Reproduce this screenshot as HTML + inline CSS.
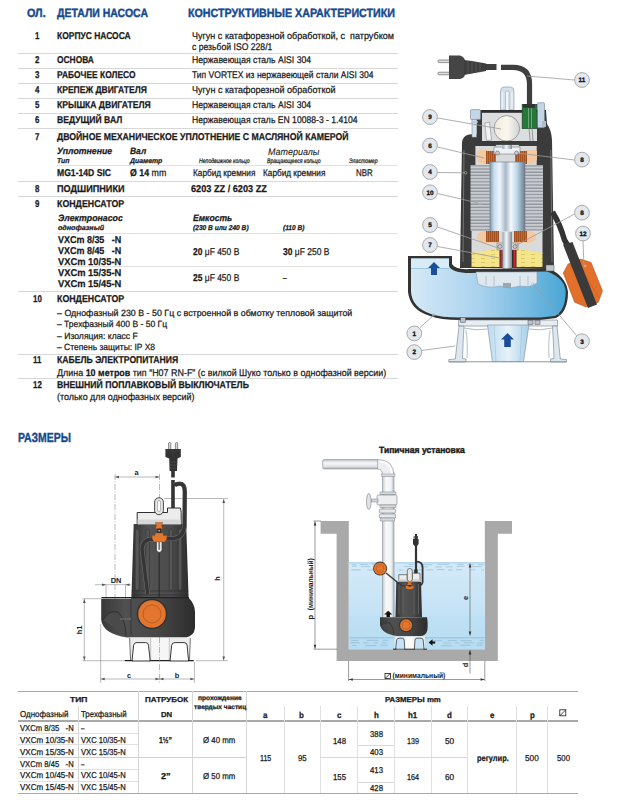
<!DOCTYPE html>
<html><head><meta charset="utf-8"><style>
*{margin:0;padding:0;box-sizing:border-box}
html,body{width:617px;height:800px;overflow:hidden;background:#fff}
body{position:relative;font-family:"Liberation Sans",sans-serif;text-rendering:geometricPrecision}
.t{position:absolute;white-space:nowrap;transform-origin:0 0;line-height:1;-webkit-text-stroke:0.25px currentColor}
.l{position:absolute}
.hb,.hb2,.sb{-webkit-text-stroke:0.4px currentColor}
.li{-webkit-text-stroke:0.1px currentColor}
.hb{font-size:12.00px;font-weight:700;color:#154a8e}
.b{font-size:9.90px;font-weight:700;color:#1a1a1a}
.r{font-size:9.70px;font-weight:400;color:#1a1a1a}
.r2{font-size:9.00px;font-weight:400;color:#1a1a1a}
.bi{font-size:9.20px;font-weight:700;font-style:italic;color:#1a1a1a}
.ti{font-size:7.00px;font-weight:700;font-style:italic;color:#1a1a1a}
.li{font-size:9.60px;font-weight:400;font-style:italic;color:#1a1a1a}
.xi{font-size:6.60px;font-weight:400;font-style:italic;color:#1a1a1a}
.tb{font-size:8.60px;font-weight:700;color:#1a1a1a}
.tr{font-size:8.60px;font-weight:400;color:#1a1a1a}
.ts{font-size:7.20px;font-weight:700;color:#1a1a1a}
.hb2{font-size:13.20px;font-weight:700;color:#154a8e}
.sb{font-size:9.20px;font-weight:700;color:#1a1a1a}
.dim{font-size:7.50px;font-weight:700;color:#1a1a1a}
.th{font-size:8.60px;font-weight:700;color:#1a1a1a}
.xb{font-size:6.60px;font-weight:700;color:#1a1a1a}
</style></head><body>
<div class="l" style="left:17.5px;top:52.90px;width:380.5px;height:1.00px;background:#d8d8d8"></div>
<div class="l" style="left:17.5px;top:67.90px;width:380.5px;height:1.00px;background:#d8d8d8"></div>
<div class="l" style="left:17.5px;top:83.10px;width:380.5px;height:1.00px;background:#d8d8d8"></div>
<div class="l" style="left:17.5px;top:98.00px;width:380.5px;height:1.00px;background:#d8d8d8"></div>
<div class="l" style="left:17.5px;top:112.80px;width:380.5px;height:1.00px;background:#d8d8d8"></div>
<div class="l" style="left:17.5px;top:127.80px;width:380.5px;height:1.00px;background:#d8d8d8"></div>
<div class="l" style="left:17.5px;top:180.90px;width:380.5px;height:1.00px;background:#d8d8d8"></div>
<div class="l" style="left:17.5px;top:195.80px;width:380.5px;height:1.00px;background:#d8d8d8"></div>
<div class="l" style="left:17.5px;top:290.70px;width:380.5px;height:1.00px;background:#d8d8d8"></div>
<div class="l" style="left:17.5px;top:353.50px;width:380.5px;height:1.00px;background:#d8d8d8"></div>
<div class="l" style="left:17.5px;top:377.70px;width:380.5px;height:1.00px;background:#d8d8d8"></div>
<div class="l" style="left:57.0px;top:165.10px;width:341.0px;height:1.00px;background:#e2e2e2"></div>
<div class="l" style="left:57.0px;top:232.90px;width:341.0px;height:1.00px;background:#e2e2e2"></div>
<div class="l" style="left:57.0px;top:266.40px;width:341.0px;height:1.00px;background:#e2e2e2"></div>
<div class="l" style="left:17.6px;top:690.60px;width:560.8px;height:1.60px;background:#a8a8a8"></div>
<div class="l" style="left:17.6px;top:792.50px;width:560.8px;height:1.60px;background:#a8a8a8"></div>
<div class="l" style="left:17.6px;top:720.35px;width:229.1px;height:1.30px;background:#a8a8a8"></div>
<div class="l" style="left:246.7px;top:720.35px;width:331.7px;height:1.30px;background:#a8a8a8"></div>
<div class="l" style="left:17.6px;top:732.50px;width:121.1px;height:1.00px;background:#e0e0e0"></div>
<div class="l" style="left:17.6px;top:744.40px;width:121.1px;height:1.00px;background:#e0e0e0"></div>
<div class="l" style="left:17.6px;top:769.00px;width:121.1px;height:1.00px;background:#e0e0e0"></div>
<div class="l" style="left:17.6px;top:780.70px;width:121.1px;height:1.00px;background:#e0e0e0"></div>
<div class="l" style="left:17.6px;top:756.60px;width:229.1px;height:1.00px;background:#d0d0d0"></div>
<div class="l" style="left:320.4px;top:756.60px;width:147.1px;height:1.00px;background:#d8d8d8"></div>
<div class="l" style="left:357.5px;top:745.10px;width:36.8px;height:1.00px;background:#d8d8d8"></div>
<div class="l" style="left:357.5px;top:781.50px;width:36.8px;height:1.00px;background:#d8d8d8"></div>
<div class="l" style="left:138.20px;top:691.4px;width:1.00px;height:101.9px;background:#d6d6d6"></div>
<div class="l" style="left:192.10px;top:691.4px;width:1.00px;height:101.9px;background:#d6d6d6"></div>
<div class="l" style="left:246.20px;top:691.4px;width:1.00px;height:101.9px;background:#d6d6d6"></div>
<div class="l" style="left:77.80px;top:706.0px;width:1.00px;height:87.3px;background:#d6d6d6"></div>
<div class="l" style="left:283.50px;top:706.0px;width:1.00px;height:87.3px;background:#e0e0e0"></div>
<div class="l" style="left:319.90px;top:706.0px;width:1.00px;height:87.3px;background:#e0e0e0"></div>
<div class="l" style="left:357.00px;top:706.0px;width:1.00px;height:87.3px;background:#e0e0e0"></div>
<div class="l" style="left:393.80px;top:706.0px;width:1.00px;height:87.3px;background:#e0e0e0"></div>
<div class="l" style="left:430.90px;top:706.0px;width:1.00px;height:87.3px;background:#e0e0e0"></div>
<div class="l" style="left:467.00px;top:706.0px;width:1.00px;height:87.3px;background:#e0e0e0"></div>
<div class="l" style="left:515.60px;top:706.0px;width:1.00px;height:87.3px;background:#e0e0e0"></div>
<div class="l" style="left:546.70px;top:706.0px;width:1.00px;height:87.3px;background:#e0e0e0"></div>
<svg style="position:absolute;left:0;top:0" width="617" height="800" viewBox="0 0 617 800">
<!-- ===== cutaway pump ===== -->
<defs>
<linearGradient id="gBlue" x1="0" y1="0" x2="1" y2="0">
<stop offset="0" stop-color="#d5e9f6"/><stop offset="0.45" stop-color="#a9d2ee"/><stop offset="1" stop-color="#4aa6d6"/></linearGradient>
<linearGradient id="gRotor" x1="0" y1="0" x2="1" y2="0">
<stop offset="0" stop-color="#8a98a6"/><stop offset="0.12" stop-color="#c8dff0"/><stop offset="0.28" stop-color="#eef5fa"/><stop offset="0.45" stop-color="#a8b8c8"/><stop offset="0.6" stop-color="#f6f9fc"/><stop offset="0.78" stop-color="#b8d4ea"/><stop offset="0.92" stop-color="#8a9aaa"/><stop offset="1" stop-color="#6e7c8a"/></linearGradient>
<linearGradient id="gShaft" x1="0" y1="0" x2="1" y2="0">
<stop offset="0" stop-color="#9aa6b2"/><stop offset="0.4" stop-color="#f2f6fa"/><stop offset="1" stop-color="#7d8a97"/></linearGradient>
<linearGradient id="gBase" x1="0" y1="0" x2="1" y2="0">
<stop offset="0" stop-color="#c8d2dc"/><stop offset="0.3" stop-color="#eef2f6"/><stop offset="0.7" stop-color="#b9c5d1"/><stop offset="1" stop-color="#e0e6ec"/></linearGradient>
<linearGradient id="gInlet" x1="0" y1="0" x2="1" y2="0">
<stop offset="0" stop-color="#bcdcf0"/><stop offset="0.5" stop-color="#e6f2fa"/><stop offset="1" stop-color="#a6cfe9"/></linearGradient>
<linearGradient id="gCap" x1="0" y1="0" x2="1" y2="0">
<stop offset="0" stop-color="#efe9dc"/><stop offset="0.5" stop-color="#fbf8f0"/><stop offset="1" stop-color="#cfd2d4"/></linearGradient>
<linearGradient id="gOrange" x1="0" y1="0" x2="1" y2="0">
<stop offset="0" stop-color="#e0641e"/><stop offset="0.6" stop-color="#ee8440"/><stop offset="1" stop-color="#d85a18"/></linearGradient>
<linearGradient id="gHousing" x1="0" y1="0" x2="1" y2="0">
<stop offset="0" stop-color="#333"/><stop offset="0.3" stop-color="#535353"/><stop offset="0.7" stop-color="#4a4a4a"/><stop offset="1" stop-color="#2e2e2e"/></linearGradient>
<linearGradient id="gVol" x1="0" y1="0" x2="1" y2="0">
<stop offset="0" stop-color="#383838"/><stop offset="0.25" stop-color="#505050"/><stop offset="0.6" stop-color="#474747"/><stop offset="1" stop-color="#2c2c2c"/></linearGradient>
<linearGradient id="gWater" x1="0" y1="0" x2="0" y2="1">
<stop offset="0" stop-color="#d4eaf8"/><stop offset="0.6" stop-color="#c4e2f5"/><stop offset="1" stop-color="#b0d7ef"/></linearGradient>
<linearGradient id="gPipe" x1="0" y1="0" x2="1" y2="0">
<stop offset="0" stop-color="#c4c8cc"/><stop offset="0.3" stop-color="#fbfbfb"/><stop offset="0.75" stop-color="#f0f1f2"/><stop offset="1" stop-color="#b4b9be"/></linearGradient>
<linearGradient id="gPipeH" x1="0" y1="0" x2="0" y2="1">
<stop offset="0" stop-color="#b9bec4"/><stop offset="0.35" stop-color="#f6f7f8"/><stop offset="0.7" stop-color="#e4e7ea"/><stop offset="1" stop-color="#a9afb6"/></linearGradient>
<pattern id="pStator" width="4" height="3.2" patternUnits="userSpaceOnUse"><rect width="4" height="3.2" fill="#c9ccd0"/><rect y="2" width="4" height="1.2" fill="#8d9298"/></pattern>
<pattern id="pCu" width="2" height="4" patternUnits="userSpaceOnUse"><rect width="2" height="4" fill="#c86a30"/><rect width="0.8" height="4" fill="#9a4a1c"/></pattern>
<pattern id="pOil" width="10" height="4" patternUnits="userSpaceOnUse"><rect width="10" height="4" fill="#f4e48a"/><rect x="1" y="2" width="4" height="0.6" fill="#c8b64e"/></pattern>
</defs>

<!-- plug -->
<g>
<rect x="438" y="60" width="12" height="2.6" rx="1" fill="#d8dde2" stroke="#555" stroke-width="0.6"/>
<rect x="438" y="72.2" width="12" height="2.6" rx="1" fill="#d8dde2" stroke="#555" stroke-width="0.6"/>
<path d="M449 55.5 L460 55.5 Q465 57 465 61 L465 74 Q465 78 460 79 L449 79 Z" fill="#454545"/>
<path d="M464 60 L472 61 L486 63.5 L486 71 L472 73.5 L464 75 Z" fill="#3e3e3e"/>
<path d="M468 61 v13 M472 61.5 v12 M476 62 v11 M480 62.8 v9.5" stroke="#5a5a5a" stroke-width="0.8"/>
<rect x="485" y="64" width="11.5" height="6" fill="#3f3f3f"/>
<path d="M501 67.3 L513 67.3 Q529.5 67.3 529.5 84 L529.5 104" fill="none" stroke="#3f3f3f" stroke-width="5.2"/>
</g>

<!-- handle -->
<path d="M500.5 110 L500.5 91 Q500.5 87 504 87 L510.5 87 Q514 87 514 91 L514 110 Z" fill="#d4e0ea" stroke="#8fa2b4" stroke-width="0.7"/>
<path d="M505.5 110 V92 Q505.5 91 507.2 91 Q509 91 509 92 V110" fill="#f4f7fa" stroke="#8fa2b4" stroke-width="0.6"/>
<path d="M502.3 92 V109 M512 92 V109" stroke="#f6f9fb" stroke-width="1"/>
<!-- dark motor housing -->
<path d="M477 110 L546 110 L547 124 Q551.5 130 552 140 L554 268 L460 268 L462 143 Q462.5 135.5 469 134.5 L477 134 Z" fill="#3b3b3b"/>
<path d="M464 150 L463 262 M550.8 150 L552 262" stroke="#9a9a9a" stroke-width="0.6"/>
<!-- top chamber -->
<rect x="482" y="112.5" width="55" height="28.5" fill="#dcdddf"/>
<rect x="482" y="110" width="40" height="2.6" fill="#2e2e2e"/>
<!-- left steel block + bolt -->
<rect x="470.5" y="109.6" width="10" height="10" rx="1" fill="#c4d6e6" stroke="#6f8598" stroke-width="0.6"/>
<rect x="472" y="119.6" width="4.6" height="17.5" fill="#d6e2ec" stroke="#6f8598" stroke-width="0.5"/>
<rect x="471" y="121" width="6.6" height="2" fill="#c0ccd8"/>
<!-- right steel block -->
<rect x="537.5" y="102.7" width="7" height="25" rx="1" fill="#c4d6e6" stroke="#6f8598" stroke-width="0.6"/>
<rect x="542" y="121" width="4" height="6" fill="#b0bcc8"/>
<!-- green gland -->
<rect x="522.2" y="104.4" width="14.5" height="24" fill="#27773a" stroke="#1f4f2a" stroke-width="0.8"/>
<rect x="523" y="104" width="12" height="3.8" fill="#333"/>
<path d="M528.5 108 v20 M531.5 108 v20" stroke="#9cc8a6" stroke-width="0.6"/>
<path d="M529 128 L531 150 M532 128 L534 152" stroke="#777" stroke-width="0.7" fill="none"/>
<!-- plate + capacitor -->
<path d="M484.8 123 L489.5 122.2 L491.6 140 L486.5 140.5 Z" fill="#f2f2f2" stroke="#888" stroke-width="0.6"/>
<circle cx="506.8" cy="128.4" r="12.8" fill="url(#gCap)" stroke="#8a8a8a" stroke-width="0.8"/>
<!-- dark band + lower light chamber -->
<rect x="475.4" y="141" width="62" height="5" fill="#3b3b3b"/>
<rect x="475.4" y="146" width="61.3" height="19" fill="#d9dadc"/>
<rect x="496" y="145" width="23" height="2" fill="#eef1f4" stroke="#888" stroke-width="0.4"/>
<!-- upper windings -->
<path d="M477 151 Q479 149 486 150 L495 152 L495 164 L483 164 Q478 163 477 159 Z" fill="#f2c9a2"/>
<rect x="486" y="151" width="10" height="13" fill="url(#pCu)"/>
<path d="M537 151 Q535 149 528 150 L516 152 L516 164 L531 164 Q536 163 537 159 Z" fill="#f2c9a2"/>
<rect x="515" y="151" width="12" height="13" fill="url(#pCu)"/>
<!-- bearing top -->
<rect x="494" y="147" width="26" height="7" fill="#eef2f5" stroke="#777" stroke-width="0.6"/>
<circle cx="497.5" cy="153" r="2" fill="#ccc" stroke="#555" stroke-width="0.5"/>
<circle cx="516.5" cy="153" r="2" fill="#ccc" stroke="#555" stroke-width="0.5"/>
<!-- stator -->
<rect x="470.5" y="165" width="20" height="66" fill="url(#pStator)"/>
<rect x="525" y="165" width="18" height="66" fill="url(#pStator)"/>
<!-- rotor -->
<rect x="490" y="162" width="35" height="70" fill="url(#gRotor)" stroke="#6d7984" stroke-width="0.6"/>
<!-- lower chamber grey -->
<rect x="471.5" y="231" width="71" height="23" fill="#d9dadc"/>
<!-- lower windings -->
<path d="M477 235 Q479 231 486 231 L499 231 L499 243 L484 243 Q478 242 477 238 Z" fill="#f2c9a2"/>
<rect x="486" y="231" width="13" height="11" fill="url(#pCu)"/>
<path d="M536 235 Q534 231 527 231 L514 231 L514 243 L529 243 Q535 242 536 238 Z" fill="#f2c9a2"/>
<rect x="514" y="231" width="13" height="11" fill="url(#pCu)"/>
<!-- oil chamber -->
<path d="M471.5 253 L494 249 L499 248 L516 248 L521 249 L542.5 253 L542.5 267 L471.5 267 Z" fill="url(#pOil)"/>
<rect x="497" y="243" width="21" height="7" fill="#d5d9dd" stroke="#666" stroke-width="0.5"/>
<circle cx="500" cy="246.5" r="2" fill="#ccc" stroke="#444" stroke-width="0.5"/>
<circle cx="515" cy="246.5" r="2" fill="#ccc" stroke="#444" stroke-width="0.5"/>
<!-- seal -->
<rect x="499.5" y="250" width="17" height="17" fill="#2e2e2e"/>
<rect x="500.5" y="250" width="2" height="17" fill="#d5262a"/>
<rect x="513.5" y="250" width="2" height="17" fill="#d5262a"/>
<!-- shaft -->
<rect x="502.5" y="145" width="9.5" height="4" fill="url(#gShaft)"/>
<rect x="502.5" y="232" width="9.5" height="56" fill="url(#gShaft)"/>
<!-- volute -->
<path d="M408 256 L452 256 L452 264 Q455 270 470 269 L548 268 Q566 276 568 292 Q568 312 556 318 L540 320 L460 320 Q440 320 430 316 Q410 310 408 292 Z" fill="#333"/>
<path d="M411 258.6 L449 258.6 L449 266 Q452 273 470 273 L547 271.5 Q565 278 565.7 292 Q565.5 310.5 555 316 L540 317.5 L460 317.5 Q441 317.5 431 314 Q411.5 307.5 411 291 Z" fill="url(#gBlue)"/>
<rect x="411" y="258.6" width="38" height="9.5" fill="#d8ecf8"/>
<path d="M411 268.5 H449" stroke="#7aaed0" stroke-width="0.6"/>
<!-- impeller -->
<path d="M476 272 L537 272 L537 283 Q530 288 520 286 L510 288 L500 286 Q488 289 478 284 Z" fill="#dfe8ef" stroke="#8aa0b4" stroke-width="0.6"/>
<path d="M486 276 v9 M494 276 v10 M520 276 v10 M528 276 v9" stroke="#a8b8c6" stroke-width="0.8"/>
<rect x="503" y="283" width="8" height="5" fill="#9aa6b2"/>
<!-- outlet arrow -->
<path d="M434 262 L440 268 L437 268 L437 275 L431 275 L431 268 L428 268 Z" fill="#1a4d9a"/>
<!-- base/legs -->
<path d="M458.6 320 L557.5 320 L557.5 326 L458.6 326 Z" fill="#e6edf3" stroke="#6f7c88" stroke-width="0.6"/>
<path d="M459 326 L464 326 Q463 342 462.5 358.5 L466 359 L466 362 L448.8 362 L448.8 359.5 L455.3 359 Z" fill="#dfe7ee" stroke="#6f7c88" stroke-width="0.6"/>
<path d="M557 326 L552.5 326 Q553.5 342 554 358.5 L550.5 359 L550.5 362 L566.5 362 L566.5 359.5 L560.3 359 Z" fill="#dfe7ee" stroke="#6f7c88" stroke-width="0.6"/>
<path d="M464 328 Q476 331 487.5 329" fill="none" stroke="#7d8a96" stroke-width="0.6"/>
<path d="M552.5 328 Q540 331 529 329" fill="none" stroke="#7d8a96" stroke-width="0.6"/>
<path d="M466 330 Q468 345 467 358" fill="none" stroke="#c0ccd6" stroke-width="1.2"/>
<path d="M550 330 Q548 345 549 358" fill="none" stroke="#c0ccd6" stroke-width="1.2"/>
<path d="M487.5 325 L529 325 L523.5 361.5 L492.4 361.5 Z" fill="url(#gInlet)" stroke="#7d8a96" stroke-width="0.6"/>
<path d="M494 326 L496 361 M522 326 L520 361" stroke="#9fb8cc" stroke-width="0.5"/>
<rect x="448.8" y="361.3" width="117.7" height="1" fill="#8a96a2"/>
<path d="M507.5 333 L514 339.5 L510.8 339.5 L510.8 347 L504.2 347 L504.2 339.5 L501 339.5 Z" fill="#1a4d9a"/>
<rect x="460.5" y="317.5" width="5" height="5" fill="#b8c2cc" stroke="#555" stroke-width="0.5"/>
<rect x="528" y="320.5" width="5" height="4" fill="#b8c2cc" stroke="#555" stroke-width="0.5"/>
<rect x="535" y="320.5" width="5" height="4" fill="#b8c2cc" stroke="#555" stroke-width="0.5"/>
<!-- float cable + float -->
<path d="M552.5 212 Q560 224 564.5 240 L568 246" fill="none" stroke="#333" stroke-width="5.5"/>
<path d="M563.3 272.9 L568.2 264 L580.4 259.1 L591 262.4 L602.4 290.8 L598.3 302.2 L586.1 307.1 L574.7 302.2 Z" fill="#e2702a" stroke="#b0501a" stroke-width="0.6"/>
<path d="M570 264.5 L594 301 M575.5 261 L599 297" stroke="#c85a1c" stroke-width="0.5"/>
<path d="M563 244.5 L572.5 242 L597 304.5 L588 308 Z" fill="#3a3a3a"/>
<circle cx="585" cy="266" r="1" fill="none" stroke="#ddd" stroke-width="0.5"/>
<rect x="546" y="265" width="8" height="6" fill="#c0c6cc" stroke="#555" stroke-width="0.5"/>

<!-- leader lines + numbered circles -->
<g stroke="#9a9a9a" stroke-width="0.8" fill="none">
<path d="M527 76 L574.5 80"/>
<path d="M437.5 118 L501 129"/>
<path d="M437.5 147 L484 158"/>
<path d="M574.5 160 L517 153"/>
<path d="M437.5 172.5 L464.3 172.8"/>
<path d="M437.5 193.5 L478.8 203.2"/>
<path d="M437.5 227 L501 249"/>
<path d="M437.5 246.5 L500 258"/>
<path d="M574.5 214 L515 246"/>
<path d="M583 241 L584 266"/>
<path d="M420 327.5 L434 315"/>
<path d="M421.5 350.5 L455 346"/>
<path d="M576.5 335.5 L533 284"/>
</g>
<g fill="none" stroke="#bbb" stroke-width="0.6">
<circle cx="465.6" cy="172.8" r="1.3"/><circle cx="480.2" cy="203.4" r="1.3"/><circle cx="532.8" cy="284" r="1.3"/><circle cx="433.6" cy="315" r="1.3"/>
</g>
<g fill="#e1e8ee" stroke="#a3a3a3" stroke-width="0.9">
<circle cx="582" cy="80" r="7.4"/>
<circle cx="430" cy="117" r="7.4"/>
<circle cx="430" cy="145.5" r="7.4"/>
<circle cx="582" cy="159.6" r="7.4"/>
<circle cx="430" cy="172" r="7.4"/>
<circle cx="430" cy="192.3" r="7.4"/>
<circle cx="430" cy="225" r="7.4"/>
<circle cx="430" cy="245" r="7.4"/>
<circle cx="582" cy="212.7" r="7.4"/>
<circle cx="583" cy="233.5" r="7.4"/>
<circle cx="414.3" cy="333.4" r="7.4"/>
<circle cx="414.3" cy="352.1" r="7.4"/>
<circle cx="582" cy="341.2" r="7.4"/>
</g>
<g font-family="Liberation Sans" font-weight="700" font-size="6.4" fill="#111" stroke="#111" stroke-width="0.3" text-anchor="middle">
<text x="582" y="82.3">11</text>
<text x="430" y="119.3">9</text>
<text x="430" y="147.8">6</text>
<text x="582" y="161.9">8</text>
<text x="430" y="174.3">4</text>
<text x="430" y="194.6">10</text>
<text x="430" y="227.3">5</text>
<text x="430" y="247.3">7</text>
<text x="582" y="215">8</text>
<text x="583" y="235.8">12</text>
<text x="414.3" y="335.7">1</text>
<text x="414.3" y="354.4">2</text>
<text x="582" y="343.5">3</text>
</g>

<!-- ===== dimension drawing ===== -->
<g>
<!-- dimension lines -->
<g stroke="#8c8c8c" stroke-width="0.6" fill="none">
<path d="M115 474 V612" stroke-dasharray="6 1.5 1 1.5"/>
<path d="M159.5 474 V684" stroke-dasharray="6 1.5 1 1.5"/>
<path d="M115 477 H159.5"/>
<path d="M164 498.5 H228"/>
<path d="M223.7 499 V660.5"/>
<path d="M196 660.7 H228"/>
<path d="M82.5 598.7 H101"/>
<path d="M82.5 660.7 H124"/>
<path d="M84.3 599 V660.5"/>
<path d="M95 584.7 H131"/>
<path d="M106 584.7 V598.7"/>
<path d="M125.5 584.7 V598.7"/>
<path d="M100.7 624 V683"/>
<path d="M194.4 662 V683"/>
<path d="M100.7 679 H194.4"/>
</g>
<g fill="#555">
<path d="M115 477 l4 -1.3 v2.6 z"/><path d="M159.5 477 l-4 -1.3 v2.6 z"/>
<path d="M223.7 499 l-1.3 4 h2.6 z"/><path d="M223.7 660.5 l-1.3 -4 h2.6 z"/>
<path d="M84.3 599 l-1.3 4 h2.6 z"/><path d="M84.3 660.5 l-1.3 -4 h2.6 z"/>
<path d="M106 584.7 l-4 -1.3 v2.6 z"/><path d="M125.5 584.7 l4 -1.3 v2.6 z"/>
<path d="M100.7 679 l4 -1.3 v2.6 z"/><path d="M159.5 679 l-4 -1.3 v2.6 z"/>
<path d="M159.5 679 l4 -1.3 v2.6 z"/><path d="M194.4 679 l-4 -1.3 v2.6 z"/>
</g>
<!-- plug -->
<rect x="168.5" y="442.5" width="2.3" height="7" rx="1.1" fill="#d0d4d8" stroke="#333" stroke-width="0.5"/>
<rect x="175.4" y="442.5" width="2.3" height="7" rx="1.1" fill="#d0d4d8" stroke="#333" stroke-width="0.5"/>
<path d="M165.4 449 H180.8 V457 L177.5 458.5 L177 471 H169.6 L169.2 458.5 L165.4 457 Z" fill="#333"/>
<path d="M170 462 H176.6 M170 465 H176.6 M170 468 H176.6" stroke="#555" stroke-width="0.6"/>
<path d="M167 451 H179 M173 449 V457" stroke="#4a4a4a" stroke-width="0.5"/>
<!-- cables -->
<path d="M173 471 V477.5 M173 480 V510" stroke="#333" stroke-width="3.6" fill="none"/>
<!-- housing -->
<path d="M133.7 524 L186.2 524 L188.6 598 L131.4 598 Z" fill="url(#gHousing)"/>
<g fill="#565656" stroke="#2c2c2c" stroke-width="0.5">
<rect x="135.2" y="529" width="4" height="61.4" rx="2"/>
<rect x="146" y="529" width="3.4" height="61.4" rx="1.7"/>
<rect x="169.3" y="529" width="3.4" height="61.4" rx="1.7"/>
<rect x="178.3" y="529" width="3.5" height="61.4" rx="1.75"/>
</g>
<path d="M131.6 591 H188.4 M131.5 595 H188.5" stroke="#2e2e2e" stroke-width="0.6"/>
<path d="M159.2 552 V597" stroke="#262626" stroke-width="1"/>
<!-- top cover -->
<path d="M137.2 512.5 L167.5 512.5 L167.5 508 L180.5 508 L181.2 512.5 L181.2 524.5 L137.2 524.5 Z" fill="#ececec" stroke="#2f2f2f" stroke-width="1"/>
<rect x="137.6" y="519.5" width="43.2" height="5" fill="#d7d7d7"/>
<!-- handle -->
<rect x="154.6" y="497.7" width="8.8" height="17" rx="4.4" fill="#e4e6e8" stroke="#333" stroke-width="0.9"/>
<rect x="157.5" y="500.5" width="3" height="11" rx="1.5" fill="#fff" stroke="#777" stroke-width="0.5"/>
<!-- loop cable -->
<path d="M174.5 485.5 Q176 483.8 180 483.8 Q184.8 483.8 184.8 492 L184.5 526 Q183.5 537 174 538.5 L150 539.3 Q142.5 540.5 142 549 L147.7 594" stroke="#6a6a6a" stroke-width="4.6" fill="none"/>
<path d="M174.5 485.5 Q176 483.8 180 483.8 Q184.8 483.8 184.8 492 L184.5 526 Q183.5 537 174 538.5 L150 539.3 Q142.5 540.5 142 549 L147.7 594" stroke="#353535" stroke-width="3.4" fill="none"/>
<!-- clamp -->
<rect x="156.3" y="538" width="5.8" height="14.4" rx="2.9" fill="#f4f4f4" stroke="#2a2a2a" stroke-width="0.8"/>
<rect x="158.3" y="541" width="1.8" height="9" rx="0.9" fill="#777"/>
<path d="M155.3 522.4 L162.7 522.4 L161.6 525.5 L162.7 528.7 L155.3 528.7 L156.4 525.5 Z" fill="#e2782e" stroke="#8a3c10" stroke-width="0.4"/>
<rect x="157.4" y="528.7" width="3.6" height="4.3" fill="#2a2a2a"/>
<circle cx="159.2" cy="530.8" r="1" fill="#999"/>
<path d="M155.5 533 L162.9 533 L163.5 535.6 L166.9 535.6 L166.9 538.5 L165 541.9 L153.9 541.9 L152.1 538.5 L152.1 535.6 L154.9 535.6 Z" fill="#e2782e" stroke="#8a3c10" stroke-width="0.4"/>
<!-- volute -->
<path d="M101.2 598.7 L131 598.7 L131 597 L188 597 Q195 604 195 612 L195 628 Q194 636 186 637.5 L127 637.5 Q103 634 101.2 620 Z" fill="url(#gVol)"/>
<path d="M101.5 597.6 H189" stroke="#222" stroke-width="1.2"/>
<path d="M103 620 Q108 610 118 612 Q126 620 126 636" stroke="#2a2a2a" stroke-width="0.8" fill="#4a4a4a"/>
<path d="M131 599 V636" stroke="#2a2a2a" stroke-width="0.6"/>
<path d="M120 619 H131" stroke="#666" stroke-width="1.5"/>
<!-- orange ball -->
<circle cx="152" cy="614" r="15.3" fill="#333"/>
<circle cx="152" cy="614" r="13.8" fill="#e2762e"/>
<circle cx="152" cy="614" r="9" fill="none" stroke="#a84c14" stroke-width="0.6"/>
<!-- legs -->
<rect x="129.5" y="637.5" width="61" height="23.2" fill="#ececec"/>
<rect x="152" y="638" width="16" height="22.6" fill="#f6f6f6"/>
<path d="M150.5 638 V660.6 M169.5 638 V660.6" stroke="#c4c4c4" stroke-width="0.8"/>
<path d="M132 661 L133.6 645.2 Q134 642.6 137 642.6 L145.5 642.6 Q148.2 642.6 148.5 645.2 L150.2 661 Z" fill="#fff" stroke="#222" stroke-width="0.9"/>
<path d="M170 661 L171.7 645.2 Q172 642.6 175 642.6 L184 642.6 Q186.8 642.6 187.1 645.2 L188.6 661 Z" fill="#fff" stroke="#222" stroke-width="0.9"/>
<path d="M129.6 638 L130.6 660.2 M190.4 638 L189.4 660.2" stroke="#444" stroke-width="0.7"/>
<path d="M124.6 660.7 H132.5 M149.8 660.7 H170.4 M188.2 660.7 H193.8" stroke="#222" stroke-width="1.3"/>
<path d="M159.5 637 V661" stroke="#8c8c8c" stroke-width="0.6" stroke-dasharray="6 1.5 1 1.5"/>
</g>

<!-- ===== installation drawing ===== -->
<g>
<!-- pit walls -->
<path d="M320.6 521 H348.8 V649.2 H484.8 V521 H512 V533.7 H497.8 V661 H336.6 V533.7 H320.6 Z" fill="#a9a9a9"/>
<!-- water -->
<rect x="348.8" y="562.5" width="136" height="86.7" fill="url(#gWater)"/>
<rect x="348.8" y="616" width="136" height="33.2" fill="#bcdff3" opacity="0.6"/>
<path d="M348.8 562.8 H484.8" stroke="#8fc3e3" stroke-width="0.8"/>
<path d="M348.8 637.8 H484.8" stroke="#7fb4d6" stroke-width="0.7"/>
<g stroke="#7fa9c8" stroke-width="0.6" fill="none" opacity="0.8">
<path d="M351.3 564.7 h5.2 M359.9 564.5 h8.3 M371.6 564.3 h8.1 M408.7 564.4 h5.0 M420.4 564.6 h11.6 M437.4 564.3 h11.8 M457.4 564.4 h6.3 M467.4 564.8 h6.5 M477.9 564.7 h6.1 M352.2 566.3 h4.5 M360.9 566.6 h9.4 M403.8 566.4 h9.6 M419.9 566.8 h8.2 M435.4 566.9 h6.3 M445.5 566.8 h7.3 M456.7 566.3 h7.9 M471.6 566.6 h10.1 M351.3 569.9 h9.6 M367.3 570.0 h7.6 M398.4 569.9 h4.5 M409.8 570.0 h11.9 M426.4 569.9 h7.1 M436.6 569.6 h7.7 M448.0 570.0 h4.5 M456.3 569.7 h6.0 M470.5 569.8 h4.6 M481.4 570.0 h2.6"/>
<path d="M351.1 640.4 h7.3 M366.7 640.3 h11.7 M382.5 640.3 h5.9 M430.4 640.6 h11.6 M448.1 640.6 h8.9 M460.4 640.7 h11.2 M479.8 640.4 h4.2 M350.4 642.7 h9.1 M362.9 642.8 h5.7 M373.6 642.7 h4.4 M381.9 642.9 h4.8 M429.2 643.2 h5.0 M443.2 643.0 h7.7 M454.4 642.9 h4.8 M463.8 642.8 h10.6 M477.6 643.0 h6.4 M352.2 645.5 h4.2 M365.3 645.6 h10.9 M380.7 645.3 h6.9 M441.6 645.7 h10.8 M460.3 645.3 h9.9 M476.4 645.2 h6.8"/>
</g>
<!-- pipe -->
<rect x="382.6" y="472" width="11.4" height="148" fill="url(#gPipe)" stroke="#8a9096" stroke-width="0.6"/>
<rect x="322.7" y="459.5" width="56" height="9.5" rx="1.5" fill="url(#gPipeH)" stroke="#8a9096" stroke-width="0.6"/>
<path d="M377.5 459.5 Q394 459.5 394 476 H382.6 Q382.6 469 377.5 469 Z" fill="#eceef0" stroke="#8a9096" stroke-width="0.6"/>
<path d="M380 461.5 Q391 462 392 474" stroke="#fff" stroke-width="1.5" fill="none"/>
<rect x="381.6" y="474" width="13.4" height="2.4" fill="#d8dcdf" stroke="#8a9096" stroke-width="0.5"/>
<!-- valve -->
<rect x="380" y="492" width="16" height="2.5" fill="#d8dcdf" stroke="#7a8086" stroke-width="0.5"/>
<rect x="377" y="495" width="20" height="10" rx="1.5" fill="#eceef0" stroke="#7a8086" stroke-width="0.6"/>
<rect x="371" y="499" width="7" height="3" fill="#d0d4d8" stroke="#7a8086" stroke-width="0.5"/>
<ellipse cx="368.8" cy="501.5" rx="2.3" ry="8" fill="#e0e3e6" stroke="#7a8086" stroke-width="0.6"/>
<rect x="380" y="505" width="16" height="2.5" fill="#d8dcdf" stroke="#7a8086" stroke-width="0.5"/>
<rect x="379.4" y="509" width="16.2" height="4" rx="1" fill="#e6e8ea" stroke="#7a8086" stroke-width="0.6"/>
<rect x="379.4" y="514" width="16.2" height="4" rx="1" fill="#e6e8ea" stroke="#7a8086" stroke-width="0.6"/>
<rect x="380.5" y="518" width="14" height="3" fill="#d6d9dc" stroke="#7a8086" stroke-width="0.5"/>
<!-- pump small -->
<path d="M416 534 V572" stroke="#333" stroke-width="2.2" fill="none"/>
<rect x="413.6" y="536" width="1.1" height="3.5" fill="#555"/><rect x="416.9" y="536" width="1.1" height="3.5" fill="#555"/>
<path d="M413 539 H418.6 V544 L417 546 H414.6 L413 544 Z" fill="#333"/>
<path d="M416.5 561.6 Q422.6 561.5 422.6 568 L422.6 582 Q422.3 586.5 414 587.5" stroke="#333" stroke-width="1.8" fill="none"/>
<path d="M396.3 582 L421 582 L422 617 L395.5 617 Z" fill="url(#gHousing)"/>
<g stroke="#5e5e5e" stroke-width="1"><path d="M399 584 V614 M403 584 V614 M414 584 V614 M418.5 584 V614"/></g>
<path d="M398.8 574.7 H407.2 V581.5 H398.8 Z" fill="#ececec" stroke="#333" stroke-width="0.6"/>
<path d="M412.3 573.2 H420 V581.5 H412.3 Z" fill="#ececec" stroke="#333" stroke-width="0.6"/>
<rect x="398.8" y="579.3" width="21.2" height="2.2" fill="#d0d0d0"/>
<rect x="407.3" y="568.5" width="5" height="13" rx="2.4" fill="#e6e6e6" stroke="#333" stroke-width="0.6"/>
<rect x="414.2" y="569.6" width="3.4" height="3.6" fill="#2a2a2a"/>
<path d="M386 573 L398 582.7 Q402 586.2 406.8 587" stroke="#3a3a3a" stroke-width="1.5" fill="none"/>
<path d="M407.3 581 H412 L411 583.5 L412 585 H407.3 L408.3 583.5 Z" fill="#e0742c"/>
<path d="M405.7 586 H413.4 V588 L411.5 589.3 H407.6 L405.7 588 Z" fill="#e0742c"/>
<rect x="408.5" y="585" width="2.6" height="1.6" fill="#2a2a2a"/>
<circle cx="380.1" cy="568.6" r="7" fill="#333"/>
<circle cx="380.1" cy="568.6" r="6.2" fill="#e2762e"/>
<circle cx="380.1" cy="568.6" r="3.8" fill="none" stroke="#a84c14" stroke-width="0.5"/>
<path d="M380 617.3 L427 617.3 Q428 622 427.4 630 Q426 636 420 636 L397 636 Q382 634 380 625 Z" fill="url(#gVol)"/>
<path d="M381 626 Q384 622 390 623 Q394 628 394 635" stroke="#2a2a2a" stroke-width="0.6" fill="#4a4a4a"/>
<circle cx="406.1" cy="625.3" r="7" fill="#333"/>
<circle cx="406.1" cy="625.3" r="6" fill="#e2762e"/>
<circle cx="406.1" cy="625.3" r="4" fill="none" stroke="#a84c14" stroke-width="0.5"/>
<rect x="394.5" y="636.5" width="30.5" height="12.5" fill="#eaeaea"/>
<rect x="405.6" y="637" width="7.9" height="12" fill="#fafafa"/>
<path d="M395.6 649.2 L396.6 640.2 Q397 638.2 399 638.2 L402.2 638.2 Q404 638.2 404.2 640.2 L404.8 649.2 Z" fill="#c6e4f5" stroke="#2a2a2a" stroke-width="0.7"/>
<path d="M414.4 649.2 L415 640.2 Q415.2 638.2 417 638.2 L421 638.2 Q423 638.2 423.2 640.2 L424 649.2 Z" fill="#c6e4f5" stroke="#2a2a2a" stroke-width="0.7"/>
<path d="M393 649.2 H396.5 M404.5 649.2 H414.8 M423.6 649.2 H427" stroke="#222" stroke-width="1"/>
<path d="M388.2 610.8 L392.2 614.5 L390 614.5 L390 617 L386.4 617 L386.4 614.5 L384.2 614.5 Z" fill="#111"/>
<path d="M428.7 642.5 L432.5 639.3 L432.5 641.5 L435.2 641.5 L435.2 643.5 L432.5 643.5 L432.5 645.7 Z" fill="#111"/>
<!-- dims -->
<g stroke="#555" stroke-width="0.6" fill="none">
<path d="M313.5 521 H321"/>
<path d="M315 521.5 V648.8"/>
<path d="M313.5 649.2 H337"/>
<path d="M470 563.5 V635.5"/>
<path d="M470 650 V673.5"/>
<path d="M348.6 661 V681"/>
<path d="M484.8 661 V681"/>
<path d="M348.8 679.5 H484.6"/>
</g>
<g fill="#333">
<path d="M315 521.5 l-1.3 4 h2.6 z"/><path d="M315 648.8 l-1.3 -4 h2.6 z"/>
<path d="M470 563.5 l-1.3 4 h2.6 z"/><path d="M470 635.5 l-1.3 -4 h2.6 z"/>
<path d="M470 650 l-1.4 4.5 h2.8 z"/>
<path d="M348.8 679.5 l4 -1.3 v2.6 z"/><path d="M484.6 679.5 l-4 -1.3 v2.6 z"/>
</g>
</g>

<g font-family="Liberation Sans" font-weight="700" fill="#1a1a1a">
<text x="136.5" y="474.5" font-size="7.4" text-anchor="middle">a</text>
<text x="116" y="583" font-size="7.4" text-anchor="middle">DN</text>
<text transform="translate(219.9 578.5) rotate(-90)" font-size="7.4" text-anchor="middle">h</text>
<text transform="translate(82.2 630) rotate(-90)" font-size="7.4" text-anchor="middle">h1</text>
<text x="129" y="677.5" font-size="7.4" text-anchor="middle">c</text>
<text x="177" y="677.5" font-size="7.4" text-anchor="middle">b</text>
<text transform="translate(312.7 619.6) rotate(-90)" font-size="7.6">p</text>
<text transform="translate(312.7 619.6) rotate(-90)" x="9.4" font-size="7.6" textLength="52" lengthAdjust="spacingAndGlyphs">(минимальный)</text>
<text transform="translate(468 598) rotate(-90)" font-size="7.4" text-anchor="middle">e</text>
<text transform="translate(468 665) rotate(-90)" font-size="7.4" text-anchor="middle">d</text>
<text x="392.5" y="677.8" font-size="7.6" textLength="52.8" lengthAdjust="spacingAndGlyphs">(минимальный)</text>
</g>
<rect x="385" y="673.5" width="5.4" height="5" fill="#fff" stroke="#1a1a1a" stroke-width="0.8"/>
<path d="M385 678.5 L390.4 673.5" stroke="#1a1a1a" stroke-width="0.8"/>
<rect x="559.8" y="709.8" width="6" height="6" fill="none" stroke="#1a1a1a" stroke-width="0.8"/>
<path d="M559.8 715.8 L565.8 709.8" stroke="#1a1a1a" stroke-width="0.8"/>

</svg>
<div class="t hb" style="left:27.20px;top:6.80px;transform:scaleX(0.899)">ОЛ.</div>
<div class="t hb" style="left:57.00px;top:6.80px;transform:scaleX(0.874)">ДЕТАЛИ НАСОСА</div>
<div class="t hb" style="left:188.00px;top:6.80px;transform:scaleX(0.890)">КОНСТРУКТИВНЫЕ ХАРАКТЕРИСТИКИ</div>
<div class="t b" style="left:35.30px;top:32.00px;transform:scaleX(0.800)">1</div>
<div class="t b" style="left:57.00px;top:32.00px;transform:scaleX(0.857)">КОРПУС НАСОСА</div>
<div class="t r" style="left:192.00px;top:32.00px;transform:scaleX(0.933)">Чугун с катафорезной обработкой, с&nbsp; патрубком</div>
<div class="t b" style="left:35.30px;top:56.30px;transform:scaleX(0.800)">2</div>
<div class="t b" style="left:57.00px;top:56.30px;transform:scaleX(0.850)">ОСНОВА</div>
<div class="t r" style="left:192.00px;top:56.30px;transform:scaleX(0.890)">Нержавеющая сталь AISI 304</div>
<div class="t b" style="left:35.30px;top:71.30px;transform:scaleX(0.800)">3</div>
<div class="t b" style="left:57.00px;top:71.30px;transform:scaleX(0.853)">РАБОЧЕЕ КОЛЕСО</div>
<div class="t r" style="left:192.00px;top:71.30px;transform:scaleX(0.880)">Тип VORTEX из нержавеющей стали AISI 304</div>
<div class="t b" style="left:35.30px;top:86.30px;transform:scaleX(0.800)">4</div>
<div class="t b" style="left:57.00px;top:86.30px;transform:scaleX(0.863)">КРЕПЕЖ ДВИГАТЕЛЯ</div>
<div class="t r" style="left:192.00px;top:86.30px;transform:scaleX(0.934)">Чугун с катафорезной обработкой</div>
<div class="t b" style="left:35.30px;top:101.30px;transform:scaleX(0.800)">5</div>
<div class="t b" style="left:57.00px;top:101.30px;transform:scaleX(0.870)">КРЫШКА ДВИГАТЕЛЯ</div>
<div class="t r" style="left:192.00px;top:101.30px;transform:scaleX(0.890)">Нержавеющая сталь AISI 304</div>
<div class="t b" style="left:35.30px;top:116.30px;transform:scaleX(0.800)">6</div>
<div class="t b" style="left:57.00px;top:116.30px;transform:scaleX(0.872)">ВЕДУЩИЙ ВАЛ</div>
<div class="t r" style="left:192.00px;top:116.30px;transform:scaleX(0.888)">Нержавеющая сталь EN 10088-3 - 1.4104</div>
<div class="t r" style="left:192.00px;top:43.30px;transform:scaleX(0.890)">с резьбой ISO 228/1</div>
<div class="t b" style="left:35.30px;top:132.60px;transform:scaleX(0.800)">7</div>
<div class="t b" style="left:57.00px;top:132.60px;transform:scaleX(0.883)">ДВОЙНОЕ МЕХАНИЧЕСКОЕ УПЛОТНЕНИЕ С МАСЛЯНОЙ КАМЕРОЙ</div>
<div class="t bi" style="left:57.00px;top:147.30px;transform:scaleX(0.953)">Уплотнение</div>
<div class="t ti" style="left:57.00px;top:158.00px;transform:scaleX(0.987)">Тип</div>
<div class="t bi" style="left:129.70px;top:147.30px;transform:scaleX(0.922)">Вал</div>
<div class="t ti" style="left:129.70px;top:158.00px;transform:scaleX(0.985)">Диаметр</div>
<div class="t li" style="left:268.40px;top:147.60px;transform:scaleX(0.932)">Материалы</div>
<div class="t xi" style="left:198.90px;top:158.80px;transform:scaleX(0.778)">Неподвижное кольцо</div>
<div class="t xi" style="left:266.60px;top:158.80px;transform:scaleX(0.777)">Вращающееся кольцо</div>
<div class="t xi" style="left:349.40px;top:158.80px;transform:scaleX(0.790)">Эластомер</div>
<div class="t b" style="left:57.00px;top:168.70px;transform:scaleX(0.871)">MG1-14D SIC</div>
<div class="t b" style="left:129.70px;top:168.70px;transform:scaleX(0.894)">Ø 14 <span style="font-weight:400">mm</span></div>
<div class="t r" style="left:193.20px;top:168.70px;transform:scaleX(0.850)">Карбид кремния</div>
<div class="t r" style="left:262.70px;top:168.70px;transform:scaleX(0.850)">Карбид кремния</div>
<div class="t r" style="left:355.80px;top:168.70px;transform:scaleX(0.816)">NBR</div>
<div class="t b" style="left:35.30px;top:184.50px;transform:scaleX(0.800)">8</div>
<div class="t b" style="left:57.00px;top:184.50px;transform:scaleX(0.923)">ПОДШИПНИКИ</div>
<div class="t b" style="left:190.70px;top:184.50px;transform:scaleX(0.928)">6203 ZZ / 6203 ZZ</div>
<div class="t b" style="left:35.30px;top:199.80px;transform:scaleX(0.800)">9</div>
<div class="t b" style="left:57.00px;top:199.80px;transform:scaleX(0.893)">КОНДЕНСАТОР</div>
<div class="t bi" style="left:58.30px;top:214.00px;transform:scaleX(0.956)">Электронасос</div>
<div class="t ti" style="left:58.30px;top:225.10px;transform:scaleX(1.019)">однофазный</div>
<div class="t bi" style="left:193.20px;top:214.00px;transform:scaleX(0.935)">Емкость</div>
<div class="t ti" style="left:193.20px;top:225.10px;transform:scaleX(0.945)">(230 В или 240 В)</div>
<div class="t ti" style="left:283.40px;top:225.10px;transform:scaleX(0.937)">(110 В)</div>
<div class="t b" style="left:58.30px;top:235.60px;transform:scaleX(0.908)">VXCm 8/35&nbsp;&nbsp; -N</div>
<div class="t b" style="left:58.30px;top:246.80px;transform:scaleX(0.908)">VXCm 8/45&nbsp;&nbsp; -N</div>
<div class="t b" style="left:58.30px;top:257.60px;transform:scaleX(0.945)">VXCm 10/35-N</div>
<div class="t b" style="left:58.30px;top:268.80px;transform:scaleX(0.945)">VXCm 15/35-N</div>
<div class="t b" style="left:58.30px;top:279.90px;transform:scaleX(0.945)">VXCm 15/45-N</div>
<div class="t b" style="left:193.20px;top:247.50px;transform:scaleX(0.857)">20 <span style="font-weight:400">μF 450 В</span></div>
<div class="t b" style="left:283.40px;top:247.50px;transform:scaleX(0.859)">30 <span style="font-weight:400">μF 250 В</span></div>
<div class="t b" style="left:193.20px;top:274.20px;transform:scaleX(0.857)">25 <span style="font-weight:400">μF 450 В</span></div>
<div class="t r" style="left:283.40px;top:274.20px;transform:scaleX(0.668)">–</div>
<div class="t b" style="left:33.11px;top:295.00px;transform:scaleX(0.800)">10</div>
<div class="t b" style="left:57.00px;top:295.00px;transform:scaleX(0.893)">КОНДЕНСАТОР</div>
<div class="t r2" style="left:57.00px;top:308.60px;transform:scaleX(0.985)">– Однофазный 230 В - 50 Гц с встроенной в обмотку тепловой защитой</div>
<div class="t r2" style="left:57.00px;top:320.30px;transform:scaleX(0.947)">– Трехфазный 400 В - 50 Гц</div>
<div class="t r2" style="left:57.00px;top:332.00px;transform:scaleX(0.959)">– Изоляция: класс F</div>
<div class="t r2" style="left:57.00px;top:343.30px;transform:scaleX(0.942)">– Степень защиты: IP X8</div>
<div class="t b" style="left:33.32px;top:356.20px;transform:scaleX(0.800)">11</div>
<div class="t b" style="left:57.00px;top:356.20px;transform:scaleX(0.877)">КАБЕЛЬ ЭЛЕКТРОПИТАНИЯ</div>
<div class="t r" style="left:57.00px;top:368.90px;transform:scaleX(0.922)">Длина <b>10 метров</b> тип “H07 RN-F” (с вилкой Шуко только в однофазной версии)</div>
<div class="t b" style="left:33.11px;top:381.40px;transform:scaleX(0.800)">12</div>
<div class="t b" style="left:57.00px;top:381.40px;transform:scaleX(0.879)">ВНЕШНИЙ ПОПЛАВКОВЫЙ ВЫКЛЮЧАТЕЛЬ</div>
<div class="t r" style="left:57.00px;top:393.00px;transform:scaleX(0.923)">(только для однофазных версий)</div>
<div class="t hb2" style="left:17.60px;top:431.00px;transform:scaleX(0.790)">РАЗМЕРЫ</div>
<div class="t sb" style="left:379.40px;top:446.00px;transform:scaleX(0.932)">Типичная установка</div>
<div class="t ts" style="left:69.50px;top:696.00px;transform:scaleX(1.181)">ТИП</div>
<div class="t tr" style="left:20.20px;top:710.30px;transform:scaleX(0.925)">Однофазный</div>
<div class="t tr" style="left:81.00px;top:710.30px;transform:scaleX(0.916)">Трехфазный</div>
<div class="t tr" style="left:20.20px;top:723.60px;transform:scaleX(0.892)">VXCm 8/35&nbsp;&nbsp; -N</div>
<div class="t tr" style="left:81.00px;top:723.60px;transform:scaleX(0.711)">–</div>
<div class="t tr" style="left:20.20px;top:735.60px;transform:scaleX(0.929)">VXCm 10/35-N</div>
<div class="t tr" style="left:81.00px;top:735.60px;transform:scaleX(0.885)">VXC 10/35-N</div>
<div class="t tr" style="left:20.20px;top:747.60px;transform:scaleX(0.929)">VXCm 15/35-N</div>
<div class="t tr" style="left:81.00px;top:747.60px;transform:scaleX(0.885)">VXC 15/35-N</div>
<div class="t tr" style="left:20.20px;top:759.80px;transform:scaleX(0.892)">VXCm 8/45&nbsp;&nbsp; -N</div>
<div class="t tr" style="left:81.00px;top:759.80px;transform:scaleX(0.711)">–</div>
<div class="t tr" style="left:20.20px;top:771.40px;transform:scaleX(0.929)">VXCm 10/45-N</div>
<div class="t tr" style="left:81.00px;top:771.40px;transform:scaleX(0.885)">VXC 10/45-N</div>
<div class="t tr" style="left:20.20px;top:783.20px;transform:scaleX(0.929)">VXCm 15/45-N</div>
<div class="t tr" style="left:81.00px;top:783.20px;transform:scaleX(0.885)">VXC 15/45-N</div>
<div class="t ts" style="left:144.65px;top:696.00px;transform:scaleX(1.114)">ПАТРУБОК</div>
<div class="t ts" style="left:160.80px;top:711.30px;transform:scaleX(1.078)">DN</div>
<div class="t xb" style="left:198.00px;top:696.00px;transform:scaleX(1.005)">прохождение</div>
<div class="t xb" style="left:193.80px;top:705.40px;transform:scaleX(0.993)">твердых частиц</div>
<div class="t tb" style="left:159.00px;top:736.00px;transform:scaleX(0.800)">1½”</div>
<div class="t tb" style="left:160.75px;top:772.00px;transform:scaleX(1.069)">2”</div>
<div class="t tr" style="left:203.05px;top:736.00px;transform:scaleX(0.914)">Ø 40 mm</div>
<div class="t tr" style="left:203.05px;top:772.00px;transform:scaleX(0.914)">Ø 50 mm</div>
<div class="t tr" style="left:259.75px;top:754.00px;transform:scaleX(0.825)">115</div>
<div class="t tr" style="left:297.95px;top:754.00px;transform:scaleX(0.910)">95</div>
<div class="t ts" style="left:385.20px;top:696.00px;transform:scaleX(1.089)">РАЗМЕРЫ mm</div>
<div class="t th" style="left:263.30px;top:710.60px;transform:scaleX(0.920)">a</div>
<div class="t th" style="left:299.38px;top:710.60px;transform:scaleX(0.920)">b</div>
<div class="t th" style="left:337.10px;top:710.60px;transform:scaleX(0.920)">c</div>
<div class="t th" style="left:373.58px;top:710.60px;transform:scaleX(0.920)">h</div>
<div class="t th" style="left:408.39px;top:710.60px;transform:scaleX(0.920)">h1</div>
<div class="t th" style="left:447.08px;top:710.60px;transform:scaleX(0.920)">d</div>
<div class="t th" style="left:489.80px;top:710.60px;transform:scaleX(0.920)">e</div>
<div class="t th" style="left:529.59px;top:710.60px;transform:scaleX(0.920)">p</div>
<div class="t tr" style="left:333.30px;top:736.50px;transform:scaleX(0.906)">148</div>
<div class="t tr" style="left:333.30px;top:773.00px;transform:scaleX(0.906)">155</div>
<div class="t tr" style="left:369.50px;top:730.00px;transform:scaleX(0.906)">388</div>
<div class="t tr" style="left:369.50px;top:747.70px;transform:scaleX(0.906)">403</div>
<div class="t tr" style="left:369.50px;top:766.40px;transform:scaleX(0.906)">413</div>
<div class="t tr" style="left:369.50px;top:784.00px;transform:scaleX(0.906)">428</div>
<div class="t tr" style="left:407.00px;top:736.50px;transform:scaleX(0.837)">139</div>
<div class="t tr" style="left:407.00px;top:773.00px;transform:scaleX(0.837)">164</div>
<div class="t tr" style="left:444.80px;top:736.50px;transform:scaleX(0.962)">50</div>
<div class="t tr" style="left:444.80px;top:773.00px;transform:scaleX(0.962)">60</div>
<div class="t tb" style="left:476.50px;top:754.20px;transform:scaleX(0.868)">регулир.</div>
<div class="t tr" style="left:525.05px;top:754.20px;transform:scaleX(0.955)">500</div>
<div class="t tr" style="left:556.80px;top:754.20px;transform:scaleX(0.906)">500</div>
</body></html>
